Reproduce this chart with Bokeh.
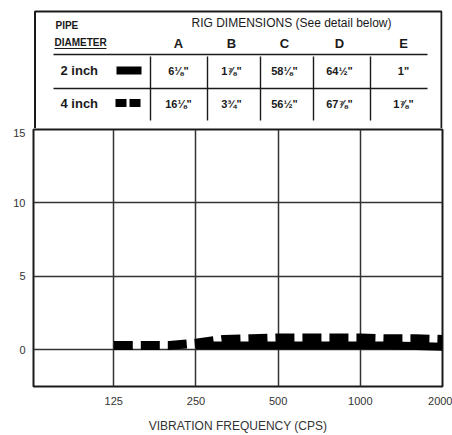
from bokeh.plotting import figure
from bokeh.models import Range1d, FixedTicker
from bokeh.layouts import column
from bokeh.embed import file_html
from bokeh.resources import INLINE
from bokeh.core.properties import value

# ---------------- data ----------------
freq_4in = [125, 160, 200, 250, 315, 400, 500, 630, 800, 1000, 1250, 1600, 2000]
four_inch = [0.3, 0.3, 0.3, 0.45, 0.7, 0.75, 0.8, 0.8, 0.8, 0.8, 0.75, 0.75, 0.7]
freq_2in = [250, 315, 400, 500, 630, 800, 1000, 1250, 1600, 2000]
two_inch = [0.3, 0.3, 0.3, 0.3, 0.3, 0.3, 0.3, 0.3, 0.25, 0.2]
x_ticks = [125, 250, 500, 1000, 2000]
y_ticks = [0, 5, 10, 15]

pipe_sizes = ["2 inch", "4 inch"]
dim_cols = ["A", "B", "C", "D", "E"]
dims_2in = ['6⅛"', '1⅞"', '58⅛"', '64½"', '1"']
dims_4in = ['16⅛"', '3¾"', '56½"', '67⅞"', '1⅞"']

FONT_NAME = "Liberation Sans"
FONT = value(FONT_NAME)
INK = "#1a1a1a"
BORDER_L, BORDER_R = 33, 10
W = 452

# ---------------- table (layout in page pixel coordinates) ----------------
t = figure(width=W, height=128, x_range=Range1d(BORDER_L, W - BORDER_R), y_range=Range1d(128, 0),
           output_backend="svg", toolbar_location=None,
           x_axis_location=None, y_axis_location=None,
           min_border_left=BORDER_L, min_border_right=BORDER_R,
           min_border_top=0, min_border_bottom=0,
           outline_line_color=None)
t.grid.visible = False

# box
t.multi_line(xs=[[34.5, 34.5, 441, 441]], ys=[[135, 11, 11, 135]], line_color=INK, line_width=2)
# header rule and row rule
t.multi_line(xs=[[53, 427], [53, 427]], ys=[[54, 54], [88, 88]], line_color=INK, line_width=1.6)
# column separators
sep_x = [150, 207, 260, 313, 370]
t.multi_line(xs=[[sx, sx] for sx in sep_x], ys=[[56, 120] for _ in sep_x],
             line_color=INK, line_width=1.4)

t.text(x=[55], y=[25], text=["PIPE"], text_font=FONT, text_font_style="bold",
       text_font_size="10px", text_baseline="middle", text_color=INK)
t.text(x=[54], y=[42], text=["DIAMETER"], text_font=FONT, text_font_style="bold",
       text_font_size="10px", text_baseline="middle", text_color=INK)
t.segment(x0=[54], y0=[48], x1=[106], y1=[48], line_color=INK, line_width=1)
t.text(x=[291], y=[22], text=["RIG DIMENSIONS (See detail below)"], text_font=FONT,
       text_font_size="12px", text_align="center", text_baseline="middle", text_color=INK)

col_x = [178, 231, 284, 339, 403]
t.text(x=col_x, y=[43] * 5, text=dim_cols, text_font=FONT, text_font_style="bold",
       text_font_size="13px", text_align="center", text_baseline="middle", text_color=INK)

row_y = [70, 103]
t.text(x=[60, 60], y=row_y, text=pipe_sizes, text_font=FONT, text_font_style="bold",
       text_font_size="13px", text_baseline="middle", text_color=INK)
for ry, vals in zip(row_y, [dims_2in, dims_4in]):
    t.text(x=col_x, y=[ry] * 5, text=vals, text_font=FONT, text_font_style="bold",
           text_font_size="11px", text_align="center", text_baseline="middle", text_color=INK)

# legend swatches
t.segment(x0=[116], y0=[70], x1=[141], y1=[70], line_color="#000", line_width=8)
t.quad(left=[115, 129], right=[126, 140], top=[98.5, 98.5], bottom=[106.5, 106.5],
       fill_color="#000", line_color=None)

# ---------------- chart ----------------
p = figure(width=W, height=307, x_axis_type="log",
           x_range=Range1d(63.5, 2000), y_range=Range1d(-2.5, 15),
           output_backend="svg", toolbar_location=None,
           min_border_left=BORDER_L, min_border_right=BORDER_R,
           min_border_top=1, min_border_bottom=48)
p.outline_line_color = INK
p.outline_line_width = 2

p.xaxis.ticker = FixedTicker(ticks=x_ticks)
p.yaxis.ticker = FixedTicker(ticks=y_ticks)
p.xaxis.major_label_overrides = {v: str(v) for v in x_ticks}
for ax in (p.xaxis, p.yaxis):
    ax.axis_line_color = None
    ax.major_tick_out = 0
    ax.major_tick_in = 0
    ax.minor_tick_out = 0
    ax.minor_tick_in = 0
    ax.major_label_text_font = FONT_NAME
    ax.major_label_text_font_size = "11px"
    ax.major_label_text_color = "#333"
p.xaxis.major_label_standoff = 10
p.yaxis.major_label_standoff = 8
p.xaxis.axis_label = "VIBRATION FREQUENCY (CPS)"
p.xaxis.axis_label_text_font = FONT_NAME
p.xaxis.axis_label_text_font_size = "12px"
p.xaxis.axis_label_text_font_style = "normal"
p.xaxis.axis_label_text_color = "#333"
p.xaxis.axis_label_standoff = 11

for g in (p.xgrid, p.ygrid):
    g.grid_line_color = "#333"
    g.grid_line_width = 1.5

p.line(freq_2in, two_inch, line_width=8, line_color="#000", line_cap="butt")
p.line(freq_4in, four_inch, line_width=9, line_color="#000", line_dash="19 8", line_cap="butt")

layout = column(t, p, spacing=0)
open("out.html", "w").write(file_html(layout, INLINE))
